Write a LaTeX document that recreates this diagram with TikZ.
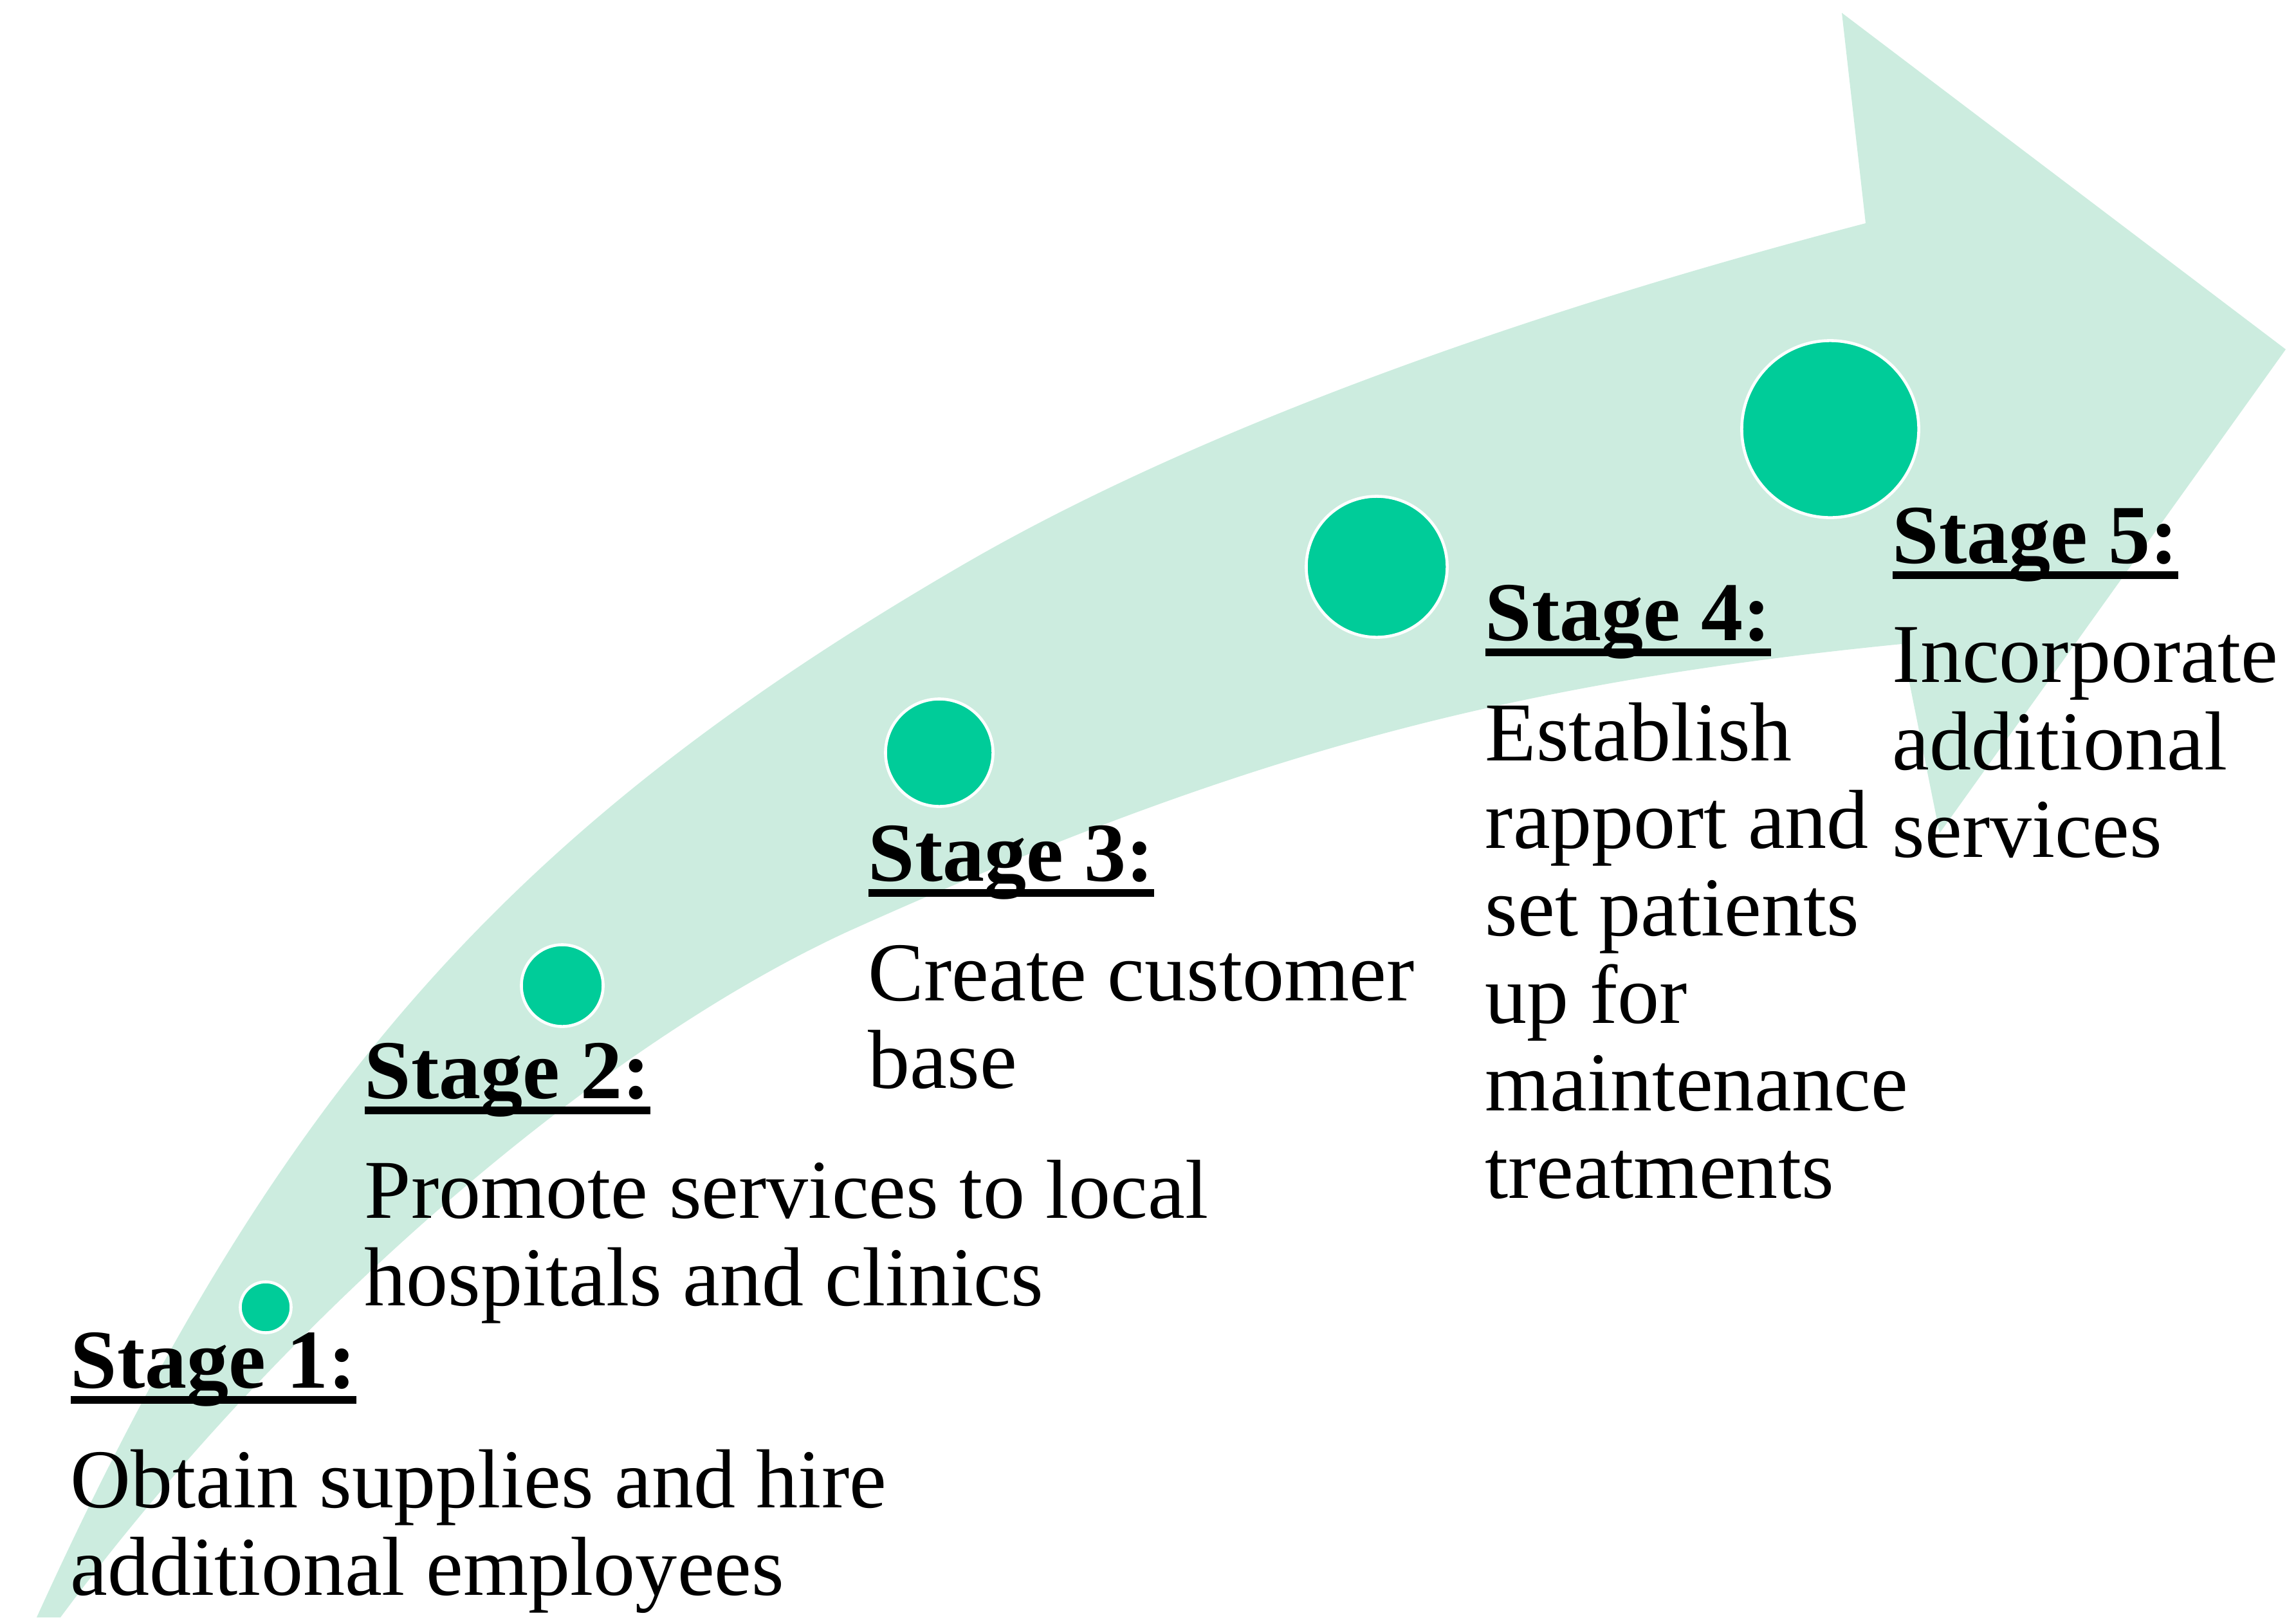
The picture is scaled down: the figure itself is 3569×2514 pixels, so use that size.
\documentclass[tikz,border=0pt]{standalone}
\usepackage{fontspec}
\setmainfont{Liberation Serif}

% heading with a heavy underline that spans the whole label
\newcommand\stagehead[1]{\setbox0=\hbox{#1}\rlap{\vrule height -0.13cm depth 0.25cm width \wd0}\box0}

\definecolor{bandgreen}{RGB}{204,236,223}
\definecolor{dotgreen}{RGB}{0,204,153}

\tikzset{
  band/.style={fill=bandgreen},
  dot/.style={circle, fill=dotgreen, draw=white, line width=1.3pt, inner sep=0pt},
  head/.style={anchor=base west, inner sep=0pt, font=\fontsize{37}{38.7}\selectfont\bfseries},
  body/.style={anchor=base west, inner sep=0pt, font=\fontsize{37}{38.7}\selectfont}
}

\begin{document}
\begin{tikzpicture}[x=0.01cm, y=-0.01cm]
\useasboundingbox (0,0) rectangle (3569,2514);

% curved growth arrow
\fill[band]
  (57,2514) .. controls (428,1698) and (789,1288) .. (1500,876)
            .. controls (1835,682) and (2325,497) .. (2900,347)
  -- (2863,20) -- (3553,543) -- (3015,1295) -- (2956,1001)
            .. controls (2334,1063) and (1925,1175) .. (1320,1447)
            .. controls (923,1629) and (433,2056) .. (94,2514)
  -- cycle;

% milestone dots, growing along the arrow
\node[dot, minimum size=0.79cm] (c1) at (413,2032) {};
\node[dot, minimum size=1.27cm] (c2) at (874,1532) {};
\node[dot, minimum size=1.67cm] (c3) at (1460,1170) {};
\node[dot, minimum size=2.19cm] (c4) at (2140,881) {};
\node[dot, minimum size=2.75cm] (c5) at (2845,667) {};

% stage labels
\node[head] (h1) at (109,2157) {\stagehead{Stage 1:}};
\node[body] (t1) at (109,2343) {\begin{tabular}[t]{@{}l@{}}Obtain supplies and hire\\additional employees\end{tabular}};

\node[head] (h2) at (566,1707) {\stagehead{Stage 2:}};
\node[body] (t2) at (566,1893) {\begin{tabular}[t]{@{}l@{}}Promote services to local\\hospitals and clinics\end{tabular}};

\node[head] (h3) at (1349,1369) {\stagehead{Stage 3:}};
\node[body] (t3) at (1349,1555) {\begin{tabular}[t]{@{}l@{}}Create customer\\base\end{tabular}};

\node[head] (h4) at (2308,995) {\stagehead{Stage 4:}};
\node[body] (t4) at (2308,1182) {\begin{tabular}[t]{@{}l@{}}Establish\\rapport and\\set patients\\up for\\maintenance\\treatments\end{tabular}};

\node[head] (h5) at (2941,875) {\stagehead{Stage 5:}};
\node[body] (t5) at (2941,1060) {\begin{tabular}[t]{@{}l@{}}Incorporate\\additional\\services\end{tabular}};
\end{tikzpicture}
\end{document}
